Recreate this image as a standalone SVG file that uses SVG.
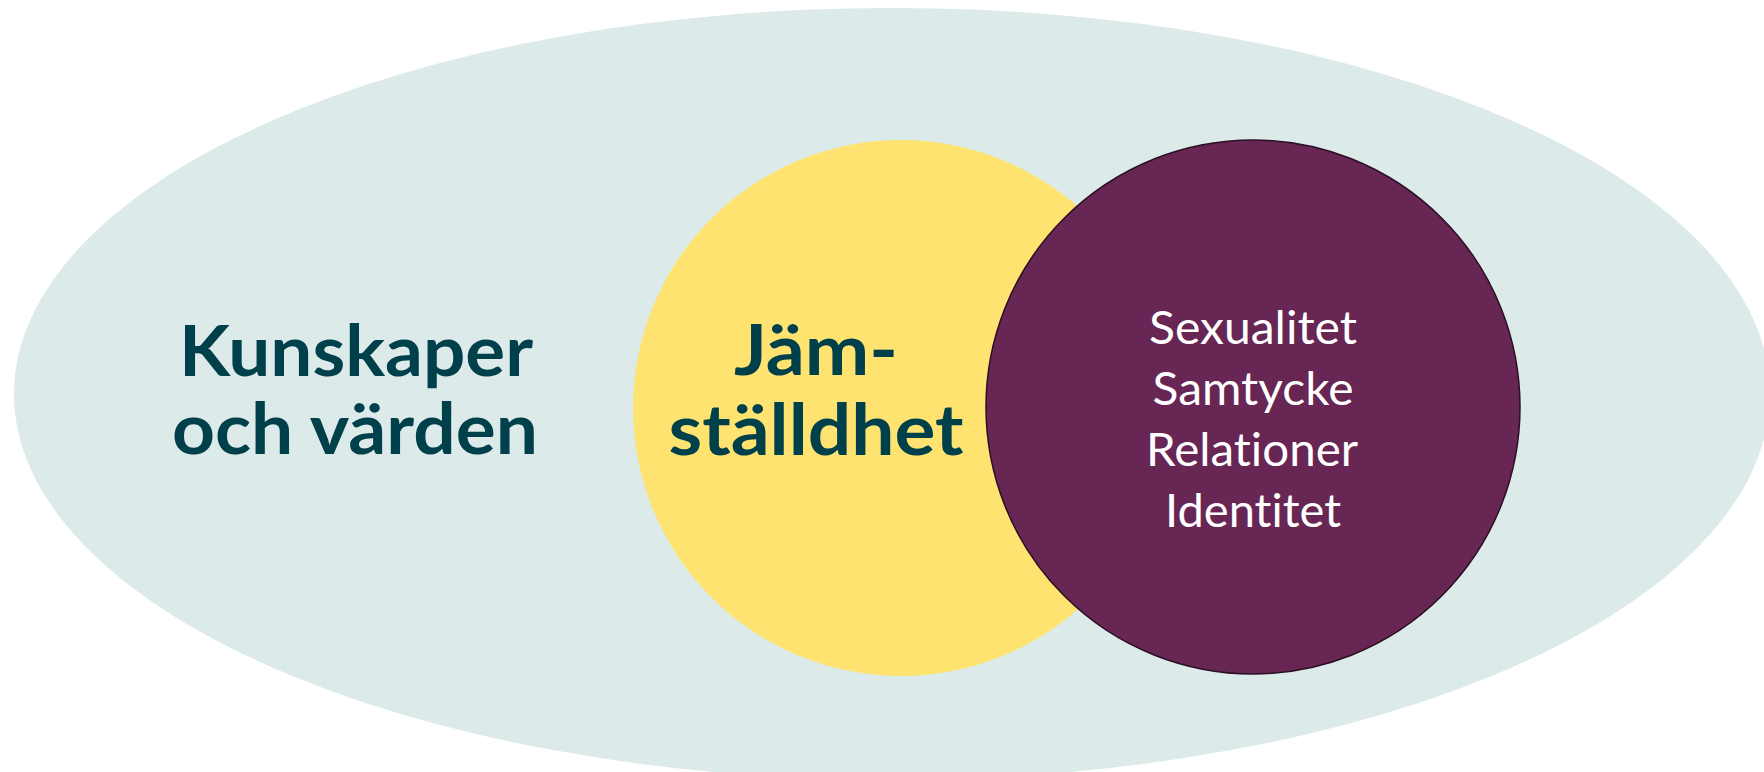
<svg xmlns="http://www.w3.org/2000/svg" width="1764" height="772" viewBox="0 0 1764 772">
<style>
.big{font-family:Lato,"Liberation Sans",sans-serif;font-weight:700;font-size:71px;fill:#00404A;text-anchor:middle;font-variant-ligatures:none}
.small{font-family:Lato,"Liberation Sans",sans-serif;font-weight:400;font-size:46px;fill:#FFFFFF;text-anchor:middle;font-variant-ligatures:none}
</style>
<rect width="1764" height="772" fill="#FFFFFF"/>
<g id="outer">
<ellipse cx="892" cy="394" rx="878" ry="386" fill="#DCEAEA"/>
<text class="big" x="356" y="376" textLength="354" lengthAdjust="spacingAndGlyphs">Kunskaper</text>
<text class="big" x="355" y="454" textLength="366" lengthAdjust="spacingAndGlyphs">och värden</text>
</g>
<g id="yellow">
<circle cx="901" cy="408" r="268" fill="#FFE371"/>
<text class="big" x="816" y="375" textLength="164" lengthAdjust="spacingAndGlyphs">Jäm-</text>
<text class="big" x="816" y="455" textLength="295" lengthAdjust="spacingAndGlyphs">ställdhet</text>
</g>
<g id="purple">
<circle cx="1253" cy="407" r="267" fill="#672654" stroke="#2A1022" stroke-width="1.5"/>
<text class="small" x="1253" y="344" textLength="208" lengthAdjust="spacingAndGlyphs">Sexualitet</text>
<text class="small" x="1253" y="405" textLength="201" lengthAdjust="spacingAndGlyphs">Samtycke</text>
<text class="small" x="1252" y="466" textLength="212" lengthAdjust="spacingAndGlyphs">Relationer</text>
<text class="small" x="1253" y="527" textLength="176" lengthAdjust="spacingAndGlyphs">Identitet</text>
</g>
<g id="connectors"/>
</svg>
